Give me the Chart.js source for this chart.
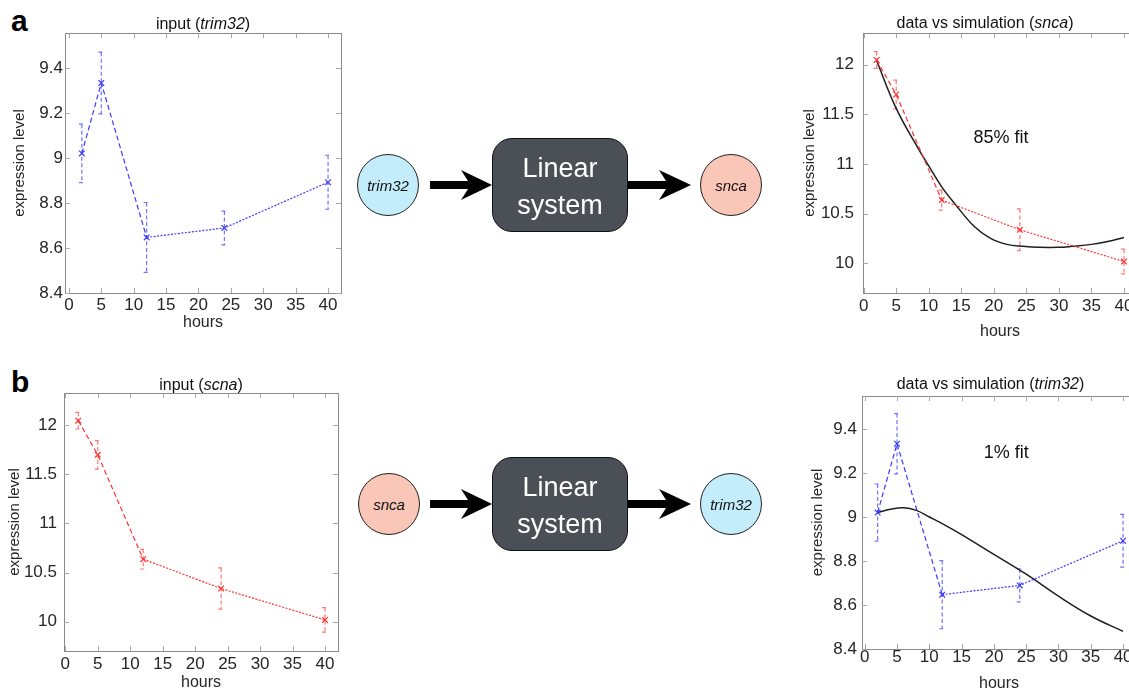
<!DOCTYPE html>
<html>
<head>
<meta charset="utf-8">
<script src="https://cdn.jsdelivr.net/npm/chart.js@4.4.1/dist/chart.umd.min.js"></script>
<style>
  html, body { margin: 0; padding: 0; background: #fff; }
  body { width: 1129px; height: 693px; position: relative; overflow: hidden; font-family: 'Liberation Sans', Arial, sans-serif; }
  canvas { position: absolute; }
  .letter { position: absolute; font-weight: bold; font-size: 30px; line-height: 30px; color: #000; }
  .node { position: absolute; width: 62px; height: 62px; border-radius: 50%; border: 1px solid #222; box-sizing: border-box;
          display: flex; align-items: center; justify-content: center; font-style: italic; font-size: 15px; color: #111; }
  .blue { background: #c4edfb; }
  .pink { background: #f9c6b8; }
  .box { position: absolute; width: 136px; height: 94px; border-radius: 20px; background: #4b4f56; border: 1.5px solid #111;
         box-sizing: border-box; display: flex; align-items: center; justify-content: center; text-align: center;
         color: #fff; font-size: 27px; line-height: 37px; padding-top: 4px; }
  svg { position: absolute; left: 0; top: 0; }
</style>
</head>
<body>
<div class="letter" style="left:11px;top:6px">a</div>
<div class="letter" style="left:11px;top:367px">b</div>

<canvas id="aIn" width="360" height="345" style="left:0;top:0"></canvas>
<canvas id="aSim" width="370" height="345" style="left:780px;top:0"></canvas>
<canvas id="bIn" width="360" height="333" style="left:0;top:360px"></canvas>
<canvas id="bSim" width="370" height="333" style="left:780px;top:360px"></canvas>

<svg width="1129" height="693">
  <polygon fill="#000" points="430,181 468,181 461,170 492,185 461,200 468,189 430,189"/>
  <polygon fill="#000" points="628,181 666,181 659,170 691,185 659,200 666,189 628,189"/>
  <polygon fill="#000" points="430,500 468,500 461,489 492,504 461,519 468,508 430,508"/>
  <polygon fill="#000" points="628,500 666,500 659,489 691,504 659,519 666,508 628,508"/>
</svg>

<div class="node blue" style="left:357px;top:154px">trim32</div>
<div class="box" style="left:492px;top:138px">Linear<br>system</div>
<div class="node pink" style="left:700px;top:154px">snca</div>

<div class="node pink" style="left:358px;top:473px">snca</div>
<div class="box" style="left:492px;top:457px">Linear<br>system</div>
<div class="node blue" style="left:700px;top:473px">trim32</div>

<script>
// measured time points (hours) and expression levels
const hours = [2, 5, 12, 24, 40];
const trim32Mean = [9.02, 9.333, 8.647, 8.689, 8.892];
const trim32Err = [0.13, 0.137, 0.155, 0.075, 0.12];
const sncaMean = [12.048, 11.70, 10.636, 10.337, 10.017];
const sncaErr = [0.085, 0.145, 0.1, 0.21, 0.125];

// simulated responses of the linear system
const sncaSimHours = [2, 5, 8, 10, 12, 14, 17, 19.5, 22, 24.5, 27, 30, 32, 35, 37.5, 40];
const sncaSim = [12.04, 11.56, 11.2, 10.98, 10.77, 10.6, 10.37, 10.25, 10.19, 10.17, 10.16, 10.16, 10.17, 10.19, 10.22, 10.26];
const trim32SimHours = [2, 4, 6, 8, 10, 12, 15, 20, 25, 30, 35, 40];
const trim32Sim = [9.02, 9.035, 9.042, 9.03, 9.0, 8.97, 8.92, 8.83, 8.74, 8.64, 8.55, 8.48];

// tick labels
const hourTicks = [0, 5, 10, 15, 20, 25, 30, 35, 40];
const trim32Ticks = [8.4, 8.6, 8.8, 9, 9.2, 9.4];
const sncaTicks = [10, 10.5, 11, 11.5, 12];

Chart.defaults.font.family = "'Liberation Sans', Arial, sans-serif";
Chart.defaults.color = '#222';

const BLUE = '#3b3bff', BLUE_ERR = '#7373ff';
const RED = '#ff3232', RED_ERR = '#ff7878';

const pts = (xs, ys) => xs.map((x, i) => ({x: x, y: ys[i]}));

// box around the axes with inward ticks on all four sides
const frame = {
  id: 'frame',
  beforeDatasetsDraw(chart) {
    const {ctx, chartArea: a, scales: {x, y}} = chart;
    ctx.save();
    ctx.lineWidth = 1;
    ctx.strokeStyle = '#8a8a8a';
    ctx.strokeRect(Math.round(a.left) + 0.5, Math.round(a.top) + 0.5,
                   Math.round(a.right - a.left), Math.round(a.bottom - a.top));
    ctx.strokeStyle = '#a8a8a8';
    ctx.beginPath();
    x.ticks.forEach(t => {
      const px = Math.round(x.getPixelForValue(t.value)) + 0.5;
      ctx.moveTo(px, a.bottom); ctx.lineTo(px, a.bottom - 5);
      ctx.moveTo(px, a.top); ctx.lineTo(px, a.top + 5);
    });
    y.ticks.forEach(t => {
      const py = Math.round(y.getPixelForValue(t.value)) + 0.5;
      ctx.moveTo(a.left, py); ctx.lineTo(a.left + 5, py);
      ctx.moveTo(a.right, py); ctx.lineTo(a.right - 5, py);
    });
    ctx.stroke();
    ctx.restore();
  }
};

// dashed error bars with caps
const errorBars = {
  id: 'errorBars',
  beforeDatasetsDraw(chart) {
    const {ctx, scales: {x, y}} = chart;
    chart.data.datasets.forEach(ds => {
      if (!ds.errors) return;
      ctx.save();
      ctx.strokeStyle = ds.errColor;
      ctx.lineWidth = 1.2;
      ctx.setLineDash([4, 2.5]);
      ds.data.forEach((p, j) => {
        const px = x.getPixelForValue(p.x);
        const top = y.getPixelForValue(p.y + ds.errors[j]);
        const bot = y.getPixelForValue(p.y - ds.errors[j]);
        ctx.beginPath();
        ctx.moveTo(px, top); ctx.lineTo(px, bot);
        ctx.moveTo(px - 3, top); ctx.lineTo(px + 3, top);
        ctx.moveTo(px - 3, bot); ctx.lineTo(px + 3, bot);
        ctx.stroke();
      });
      ctx.restore();
    });
  }
};

// title with an italic gene name, plus an optional note inside the plot
const texts = {
  id: 'texts',
  afterDraw(chart, args, opts) {
    const {ctx, chartArea: a, scales: {x, y}} = chart;
    ctx.save();
    ctx.fillStyle = '#111';
    ctx.textBaseline = 'middle';
    const fonts = opts.parts.map(p => (p[1] ? 'italic ' : '') + '16px ' + Chart.defaults.font.family);
    let w = 0;
    opts.parts.forEach((p, i) => { ctx.font = fonts[i]; w += ctx.measureText(p[0]).width; });
    let cx = (opts.cx !== undefined ? opts.cx : (a.left + a.right) / 2) - w / 2;
    opts.parts.forEach((p, i) => {
      ctx.font = fonts[i];
      ctx.textAlign = 'left';
      ctx.fillText(p[0], cx, opts.cy);
      cx += ctx.measureText(p[0]).width;
    });
    if (opts.note) {
      ctx.font = '18px ' + Chart.defaults.font.family;
      ctx.textAlign = 'center';
      ctx.fillText(opts.note.text, x.getPixelForValue(opts.note.x), y.getPixelForValue(opts.note.y));
    }
    ctx.restore();
  }
};

function dataSet(xs, ys, errs, color, errColor) {
  return {
    data: pts(xs, ys), errors: errs, errColor: errColor,
    borderColor: color, borderWidth: 1.2, backgroundColor: color,
    pointStyle: 'crossRot', pointRadius: 4, pointBorderWidth: 1.2, pointBorderColor: color,
    segment: { borderDash: c => c.p0DataIndex < 2 ? [5, 3] : [2, 1.5] },
    tension: 0
  };
}

function simSet(xs, ys) {
  return {
    data: pts(xs, ys), borderColor: '#1e1e1e', borderWidth: 1.5,
    pointRadius: 0, tension: 0.4
  };
}

function panel(id, p) {
  new Chart(document.getElementById(id), {
    type: 'line',
    data: { datasets: p.datasets },
    plugins: [frame, errorBars, texts],
    options: {
      responsive: false, animation: false, devicePixelRatio: 1,
      layout: { padding: p.pad },
      plugins: {
        legend: { display: false }, tooltip: { enabled: false },
        texts: { parts: p.title, cx: p.titleX, cy: p.titleY, note: p.note }
      },
      scales: {
        x: {
          type: 'linear', min: p.xr[0], max: p.xr[1],
          grid: { display: false, drawTicks: false }, border: { display: false },
          afterBuildTicks: s => { s.ticks = hourTicks.map(v => ({value: v})); },
          afterFit: s => { s.height = p.xh; },
          ticks: { font: { size: 17 }, padding: p.xtp, color: '#262626', maxRotation: 0, autoSkip: false },
          title: { display: true, text: 'hours', font: { size: 16 }, color: '#262626',
                   padding: { top: 0, bottom: p.xtb } }
        },
        y: {
          type: 'linear', min: p.yr[0], max: p.yr[1],
          grid: { display: false, drawTicks: false }, border: { display: false },
          afterBuildTicks: s => { s.ticks = p.yticks.map(v => ({value: v})); },
          afterFit: s => { s.width = p.yw; },
          ticks: { font: { size: 17 }, padding: p.ytp, color: '#262626', autoSkip: false,
                   callback: v => String(+Number(v).toFixed(2)) },
          title: { display: true, text: 'expression level', font: { size: 15 }, color: '#262626',
                   padding: { top: p.ytt, bottom: 0 } }
        }
      }
    }
  });
}

panel('aIn', {
  datasets: [dataSet(hours, trim32Mean, trim32Err, BLUE, BLUE_ERR)],
  title: [['input (', false], ['trim32', true], [')', false]], titleY: 24.5,
  pad: { left: 0, top: 33, right: 19, bottom: 0 },
  xr: [-0.6, 42], yr: [8.4, 9.555], yticks: trim32Ticks,
  xh: 52, yw: 65, xtp: 2, xtb: 12.9, ytp: 2, ytt: 11
});

panel('aSim', {
  datasets: [dataSet(hours, sncaMean, sncaErr, RED, RED_ERR), simSet(sncaSimHours, sncaSim)],
  title: [['data vs simulation (', false], ['snca', true], [')', false]], titleX: 205, titleY: 24,
  note: { text: '85% fit', x: 21.1, y: 11.26 },
  pad: { left: 0, top: 33, right: 13, bottom: 0 },
  xr: [-0.1, 42], yr: [9.7, 12.32], yticks: sncaTicks,
  xh: 52, yw: 83, xtp: 3, xtb: 3.4, ytp: 9, ytt: 21
});

panel('bIn', {
  datasets: [dataSet(hours, sncaMean, sncaErr, RED, RED_ERR)],
  title: [['input (', false], ['scna', true], [')', false]], titleY: 25.5,
  pad: { left: 0, top: 33, right: 22, bottom: 0 },
  xr: [-0.2, 42], yr: [9.7, 12.33], yticks: sncaTicks,
  xh: 42, yw: 64, xtp: 3.5, xtb: 0.9, ytp: 7, ytt: 6
});

panel('bSim', {
  datasets: [dataSet(hours, trim32Mean, trim32Err, BLUE, BLUE_ERR), simSet(trim32SimHours, trim32Sim)],
  title: [['data vs simulation (', false], ['trim32', true], [')', false]], titleX: 210.5, titleY: 25,
  note: { text: '1% fit', x: 21.9, y: 9.29 },
  pad: { left: 0, top: 36, right: 14, bottom: 0 },
  xr: [-0.42, 42], yr: [8.4, 9.55], yticks: trim32Ticks,
  xh: 44, yw: 82, xtp: -1.4, xtb: 0.1, ytp: 5, ytt: 29
});
</script>
</body>
</html>
